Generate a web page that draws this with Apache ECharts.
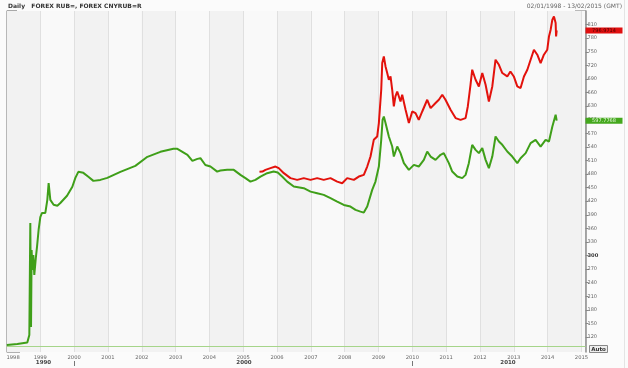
<!DOCTYPE html>
<html>
<head>
<meta charset="utf-8">
<script src="https://cdn.jsdelivr.net/npm/echarts@6/dist/echarts.min.js"></script>
<style>html,body{margin:0;padding:0;background:#fbfbfb}#c{width:628px;height:368px}</style>
</head>
<body>
<div id="c"></div>
<script>
// ---- data (time as decimal year) ----
const rubT = [1998.01,1998.32,1998.615,1998.675,1998.704,1998.725,1998.743,1998.763,1998.793,1998.822,1998.867,1998.902,1998.95,1999.0,1999.05,1999.148,1999.207,1999.246,1999.296,1999.393,1999.503,1999.592,1999.79,1999.947,2000.036,2000.124,2000.272,2000.42,2000.568,2000.775,2000.98,2001.367,2001.81,2002.166,2002.55,2002.935,2003.053,2003.35,2003.497,2003.645,2003.734,2003.88,2004.03,2004.23,2004.325,2004.524,2004.72,2004.917,2005.065,2005.213,2005.36,2005.51,2005.707,2005.9,2006.02,2006.15,2006.3,2006.494,2006.79,2006.99,2007.186,2007.38,2007.58,2007.778,2007.973,2008.17,2008.32,2008.467,2008.565,2008.666,2008.813,2008.91,2009.01,2009.08,2009.12,2009.157,2009.207,2009.305,2009.405,2009.453,2009.553,2009.65,2009.75,2009.897,2010.045,2010.19,2010.34,2010.44,2010.54,2010.686,2010.834,2010.93,2011.08,2011.18,2011.33,2011.476,2011.574,2011.67,2011.77,2011.87,2011.967,2012.068,2012.166,2012.263,2012.364,2012.46,2012.56,2012.66,2012.807,2012.955,2013.103,2013.2,2013.35,2013.497,2013.645,2013.793,2013.94,2014.04,2014.14,2014.237,2014.268];
const rubV = [102.3,104.5,107.8,124.4,372,142,312,268,301,257,295,319,357,385,394,394,423,460,423,412,410,416,432,452,471.5,484.8,482.6,473.9,464.9,467,471.5,484.8,498,518,529,535.6,535.6,522.4,509,513.5,515,500,496.5,485.4,487.7,489.2,489.2,478.1,470.9,463.3,467.1,474.4,481.9,485.4,483.2,474.4,463.3,452.3,448.7,441.2,437.7,433.9,426.6,419.1,411.8,408.1,400.8,397,394.8,408.1,445,463.3,496.5,555.5,599.7,607,592.5,562.8,540.7,518.6,540.7,526.1,504,489.2,500.3,496.5,511.3,529.7,518.6,511.3,522.4,526.1,504,485.4,474.4,470.9,478.1,504,544.5,533.4,526.1,537.2,511.3,493,518.6,562.8,551.8,544.5,529.7,518.6,504,515,526.1,548.2,555.5,540.7,555.5,551.8,585,610.8,597.7768];
const cnyT = [2005.48,2005.568,2005.657,2005.805,2005.953,2006.05,2006.2,2006.396,2006.595,2006.79,2006.99,2007.186,2007.38,2007.58,2007.778,2007.926,2008.074,2008.27,2008.417,2008.565,2008.666,2008.763,2008.86,2008.96,2009.01,2009.08,2009.11,2009.157,2009.207,2009.257,2009.305,2009.355,2009.405,2009.453,2009.5,2009.553,2009.65,2009.7,2009.8,2009.897,2009.997,2010.095,2010.19,2010.293,2010.44,2010.54,2010.686,2010.784,2010.885,2010.98,2011.13,2011.278,2011.426,2011.574,2011.64,2011.72,2011.77,2011.87,2011.967,2012.068,2012.166,2012.263,2012.364,2012.46,2012.56,2012.66,2012.807,2012.9,2013.0,2013.103,2013.2,2013.3,2013.4,2013.497,2013.595,2013.695,2013.793,2013.89,2013.99,2014.04,2014.09,2014.14,2014.187,2014.237,2014.25,2014.268];
const cnyV = [484.8,485.4,489.2,493,496.5,493,481.9,470.9,467.1,470.9,467.1,470.9,467.1,470.9,463.3,459.8,470.9,467.1,474.4,478.1,496.5,518.6,555.5,562.8,592.5,666,725,739.7,717.6,703,688.2,695.5,666,629.2,651.3,662.3,640.2,655,621.9,592.5,618.1,614.6,599.7,618.1,644,625.6,636.7,644,655,644,621.9,603.5,599.7,603.5,629.2,677.1,710.3,688.2,673.4,703,677.1,640.2,673.4,732.4,721.3,703,695.5,706.5,695.5,673.4,669.8,695.5,710.3,732.4,754.5,743.5,725,743.5,754.5,783.9,798.7,820.8,828.1,813.5,783.9,796.9714];
const yTicks = [120,150,180,210,240,270,300,330,360,390,420,450,480,510,540,570,600,630,660,690,720,750,780,810];
const baseLevel = 100;
const rubLast = '597.7768';
const cnyLast = '796.9714';
const xMin = 1998, xMax = 2015.12, yMin = 87, yMax = 840;

const zip = (t, v) => t.map((x, i) => [x, v[i]]);
const FONT = 'DejaVu Sans';
const GREEN = '#3f9f19', RED = '#e3120c';

const chart = echarts.init(document.getElementById('c'), null, {renderer: 'canvas'});
chart.setOption({
  backgroundColor: '#fbfbfb',
  animation: false,
  textStyle: {fontFamily: FONT},
  grid: {left: 6.5, right: 42.5, top: 11, bottom: 16, containLabel: false},
  xAxis: {
    type: 'value', min: xMin, max: xMax, interval: 1,
    axisLine: {show: false}, axisTick: {show: false},
    splitLine: {show: true, lineStyle: {color: '#e0e0e0', width: 1}},
    splitArea: {show: true, areaStyle: {color: ['#f2f2f2', '#f9f9f9']}},
    axisLabel: {
      fontFamily: FONT, fontSize: 5.2, color: '#666', margin: 3,
      alignMinLabel: 'left',
      formatter: v => Math.abs(v - Math.round(v)) < 1e-6 ? String(Math.round(v)) : ''
    }
  },
  yAxis: [{
    type: 'value', position: 'right', min: yMin, max: yMax,
    axisLine: {show: true, lineStyle: {color: '#8c8c8c', width: 1.5}},
    axisTick: {show: true, customValues: yTicks, length: 3, lineStyle: {color: '#888'}},
    axisLabel: {
      customValues: yTicks, fontFamily: FONT, fontSize: 5, color: '#666', margin: 2,
      formatter: v => v === 300 ? '{b|300}' : String(v),
      rich: {b: {fontWeight: 'bold', fontSize: 5.2, color: '#333', fontFamily: FONT}}
    },
    splitLine: {show: false}
  }, {
    type: 'value', position: 'left', min: yMin, max: yMax,
    axisLine: {show: true, lineStyle: {color: '#b8b8b8', width: 1}},
    axisTick: {show: false}, axisLabel: {show: false}, splitLine: {show: false}
  }],
  series: [{
    name: 'IPP, FOREX RUB=', type: 'line', data: zip(rubT, rubV), showSymbol: false,
    lineStyle: {color: GREEN, width: 2}, itemStyle: {color: GREEN}, z: 3,
    markLine: {
      silent: true, symbol: 'none', label: {show: false},
      lineStyle: {color: '#a6d58a', width: 1, type: 'solid'},
      data: [{yAxis: baseLevel}]
    },
    markPoint: {
      symbol: 'rect', symbolSize: [37, 6], symbolOffset: [18.5, 0],
      itemStyle: {color: '#45a81e'},
      label: {show: true, position: 'inside', formatter: rubLast, fontSize: 5, color: '#e8f8e0', fontFamily: FONT},
      data: [{coord: [xMax, Number(rubLast)]}]
    }
  }, {
    name: 'IPP, FOREX CNYRUB=R', type: 'line', data: zip(cnyT, cnyV), showSymbol: false,
    lineStyle: {color: RED, width: 2}, itemStyle: {color: RED}, z: 4,
    markPoint: {
      symbol: 'rect', symbolSize: [37, 6], symbolOffset: [18.5, 0],
      itemStyle: {color: '#e01010'},
      label: {show: true, position: 'inside', formatter: cnyLast, fontSize: 5, color: '#4a0000', fontFamily: FONT},
      data: [{coord: [xMax, Number(cnyLast)]}]
    }
  }],
  graphic: [
    {type: 'text', left: 8, top: 3, style: {text: 'Daily   FOREX RUB=, FOREX CNYRUB=R', font: 'bold 6px "DejaVu Sans"', fill: '#333'}},
    {type: 'text', right: 6, top: 3, style: {text: '02/01/1998 - 13/02/2015 (GMT)', font: '6px "DejaVu Sans"', fill: '#666'}},
    {type: 'text', left: 12, top: 13, style: {text: 'IPP, FOREX RUB=', font: '5.2px "DejaVu Sans"', fill: '#52b02a'}},
    {type: 'text', left: 12, top: 21, style: {text: '08/04/2014, ' + rubLast, font: '5.2px "DejaVu Sans"', fill: '#52b02a'}},
    {type: 'text', left: 12, top: 29, style: {text: 'IPP, FOREX CNYRUB=R', font: '5.2px "DejaVu Sans"', fill: '#e0303a'}},
    {type: 'text', left: 12, top: 37, style: {text: '08/04/2014, ' + cnyLast, font: '5.2px "DejaVu Sans"', fill: '#e0303a'}},
    {type: 'polyline', shape: {points: [[17, 11], [7, 11], [7, 46]]}, style: {stroke: '#555', lineWidth: 1, fill: null}},
    {type: 'polyline', shape: {points: [[575, 11], [586, 11]]}, style: {stroke: '#777', lineWidth: 1, fill: null}},
    {type: 'polyline', shape: {points: [[7, 340], [7, 352], [20, 352]]}, style: {stroke: '#666', lineWidth: 1, fill: null}},
    {type: 'text', x: 43.5, y: 363, style: {text: '1990', font: 'bold 5.5px "DejaVu Sans"', fill: '#444', align: 'center', verticalAlign: 'middle'}},
    {type: 'text', x: 244, y: 363, style: {text: '2000', font: 'bold 5.5px "DejaVu Sans"', fill: '#444', align: 'center', verticalAlign: 'middle'}},
    {type: 'text', x: 508, y: 363, style: {text: '2010', font: 'bold 5.5px "DejaVu Sans"', fill: '#444', align: 'center', verticalAlign: 'middle'}},
    {type: 'line', shape: {x1: 74.5, y1: 361, x2: 74.5, y2: 366}, style: {stroke: '#777', lineWidth: 1}},
    {type: 'line', shape: {x1: 412.5, y1: 361, x2: 412.5, y2: 366}, style: {stroke: '#777', lineWidth: 1}},
    {type: 'rect', shape: {x: 589.5, y: 345.5, width: 18, height: 7}, style: {fill: '#eeeeee', stroke: '#888', lineWidth: 1}},
    {type: 'text', x: 598.5, y: 349.2, style: {text: 'Auto', font: 'bold 5.5px "DejaVu Sans"', fill: '#333', align: 'center', verticalAlign: 'middle'}},
    {type: 'line', shape: {x1: 624.5, y1: 0, x2: 624.5, y2: 368}, style: {stroke: '#e4e4e4', lineWidth: 1}}
  ]
});
</script>
</body>
</html>
